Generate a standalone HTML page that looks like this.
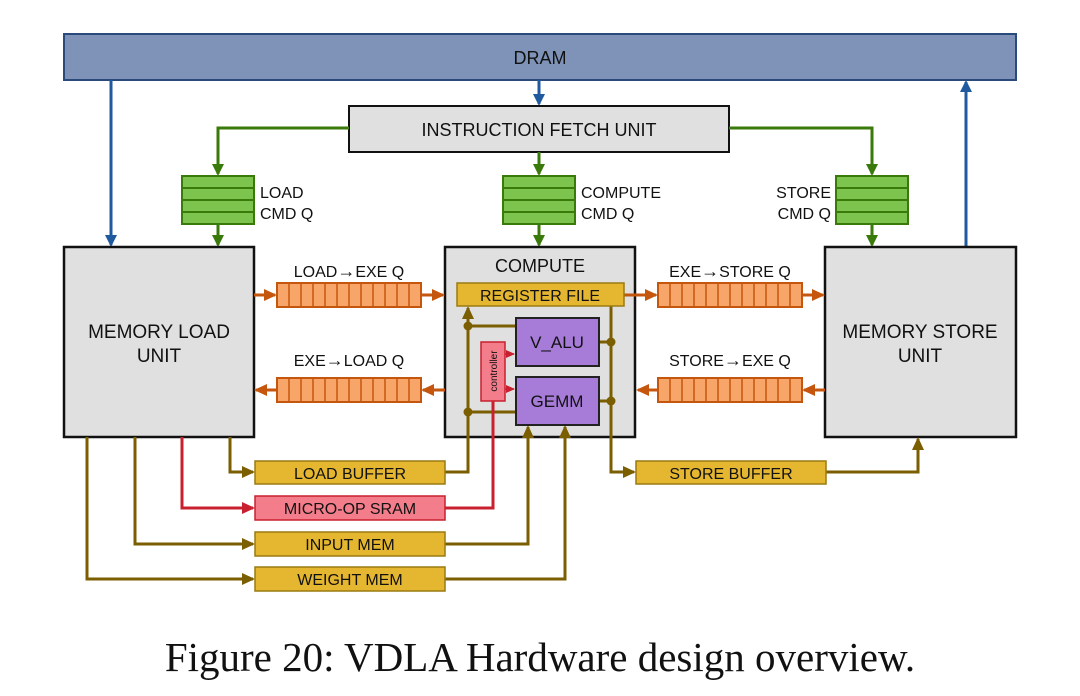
<!DOCTYPE html>
<html><head><meta charset="utf-8"><style>
html,body{margin:0;padding:0;background:#fff;width:1080px;height:696px;overflow:hidden}
text{font-family:"Liberation Sans",sans-serif;fill:#111}
</style></head><body>
<svg width="1080" height="696" viewBox="0 0 1080 696" xmlns="http://www.w3.org/2000/svg">
<defs>
<marker id="ab" markerWidth="12" markerHeight="12" refX="10" refY="6" orient="auto" markerUnits="userSpaceOnUse"><path d="M0,0 L12,6 L0,12 Z" fill="#1f5a9e"/></marker>
<marker id="ag" markerWidth="12" markerHeight="12" refX="10" refY="6" orient="auto" markerUnits="userSpaceOnUse"><path d="M0,0 L12,6 L0,12 Z" fill="#3a7a0a"/></marker>
<marker id="ao" markerWidth="13" markerHeight="12" refX="11" refY="6" orient="auto" markerUnits="userSpaceOnUse"><path d="M0,0 L13,6 L0,12 Z" fill="#c5560d"/></marker>
<marker id="ay" markerWidth="13" markerHeight="12" refX="11" refY="6" orient="auto" markerUnits="userSpaceOnUse"><path d="M0,0 L13,6 L0,12 Z" fill="#7a5e00"/></marker>
<marker id="ar" markerWidth="13" markerHeight="12" refX="11" refY="6" orient="auto" markerUnits="userSpaceOnUse"><path d="M0,0 L13,6 L0,12 Z" fill="#c8202e"/></marker>
<marker id="ar2" markerWidth="9" markerHeight="8" refX="8" refY="4" orient="auto" markerUnits="userSpaceOnUse"><path d="M0,0 L9,4 L0,8 Z" fill="#c8202e"/></marker>
</defs>

<rect x="64" y="34" width="952" height="46" fill="#7f93b9" stroke="#2a4a7c" stroke-width="2"/>
<text x="540" y="64" font-size="18" text-anchor="middle">DRAM</text>
<g stroke="#1f5a9e" stroke-width="3" fill="none">
<path d="M111 80 V245" marker-end="url(#ab)"/>
<path d="M539 80 V104" marker-end="url(#ab)"/>
<path d="M966 247 V82" marker-end="url(#ab)"/>
</g>

<rect x="349" y="106" width="380" height="46" fill="#e0e0e0" stroke="#111" stroke-width="2"/>
<text x="539" y="136" font-size="18" text-anchor="middle">INSTRUCTION FETCH UNIT</text>
<g stroke="#3a7a0a" stroke-width="3" fill="none">
<path d="M349 128 H218 V174" marker-end="url(#ag)"/>
<path d="M729 128 H872 V174" marker-end="url(#ag)"/>
<path d="M539 152 V174" marker-end="url(#ag)"/>
<path d="M218 224 V245" marker-end="url(#ag)"/>
<path d="M539 224 V245" marker-end="url(#ag)"/>
<path d="M872 224 V245" marker-end="url(#ag)"/>
</g>
<g fill="#7cc44e" stroke="#3a7a0a" stroke-width="2">
<rect x="182" y="176" width="72" height="48"/><rect x="503" y="176" width="72" height="48"/><rect x="836" y="176" width="72" height="48"/>
</g>
<g stroke="#3a7a0a" stroke-width="2">
<path d="M182 188H254M182 200H254M182 212H254M503 188H575M503 200H575M503 212H575M836 188H908M836 200H908M836 212H908"/>
</g>
<g font-size="16">
<text x="260" y="198">LOAD</text><text x="260" y="219">CMD Q</text>
<text x="581" y="198">COMPUTE</text><text x="581" y="219">CMD Q</text>
<text x="831" y="198" text-anchor="end">STORE</text><text x="831" y="219" text-anchor="end">CMD Q</text>
</g>

<rect x="64" y="247" width="190" height="190" fill="#e0e0e0" stroke="#111" stroke-width="2.5"/>
<text x="159" y="338" font-size="19" text-anchor="middle">MEMORY LOAD</text>
<text x="159" y="362" font-size="19" text-anchor="middle">UNIT</text>
<rect x="445" y="247" width="190" height="190" fill="#e0e0e0" stroke="#111" stroke-width="2.5"/>
<text x="540" y="272" font-size="18" text-anchor="middle">COMPUTE</text>
<rect x="825" y="247" width="191" height="190" fill="#e0e0e0" stroke="#111" stroke-width="2.5"/>
<text x="920" y="338" font-size="19" text-anchor="middle">MEMORY STORE</text>
<text x="920" y="362" font-size="19" text-anchor="middle">UNIT</text>

<g font-size="16" text-anchor="middle">
<text x="349" y="277">LOAD<tspan font-size="18">→</tspan>EXE Q</text>
<text x="349" y="366">EXE<tspan font-size="18">→</tspan>LOAD Q</text>
<text x="730" y="277">EXE<tspan font-size="18">→</tspan>STORE Q</text>
<text x="730" y="366">STORE<tspan font-size="18">→</tspan>EXE Q</text>
</g>
<g fill="#f8a56a" stroke="#c5560d" stroke-width="2">
<rect x="277" y="283" width="144" height="24"/><rect x="277" y="378" width="144" height="24"/>
<rect x="658" y="283" width="144" height="24"/><rect x="658" y="378" width="144" height="24"/>
</g>
<g stroke="#c5560d" stroke-width="1.5">
<path d="M289 283V307M301 283V307M313 283V307M325 283V307M337 283V307M349 283V307M361 283V307M373 283V307M385 283V307M397 283V307M409 283V307"/>
<path d="M289 378V402M301 378V402M313 378V402M325 378V402M337 378V402M349 378V402M361 378V402M373 378V402M385 378V402M397 378V402M409 378V402"/>
<path d="M670 283V307M682 283V307M694 283V307M706 283V307M718 283V307M730 283V307M742 283V307M754 283V307M766 283V307M778 283V307M790 283V307"/>
<path d="M670 378V402M682 378V402M694 378V402M706 378V402M718 378V402M730 378V402M742 378V402M754 378V402M766 378V402M778 378V402M790 378V402"/>
</g>
<g stroke="#c5560d" stroke-width="3" fill="none">
<path d="M254 295H275" marker-end="url(#ao)"/><path d="M421 295H443" marker-end="url(#ao)"/>
<path d="M445 390H423" marker-end="url(#ao)"/><path d="M277 390H256" marker-end="url(#ao)"/>
<path d="M624 295H656" marker-end="url(#ao)"/><path d="M802 295H823" marker-end="url(#ao)"/>
<path d="M825 390H804" marker-end="url(#ao)"/><path d="M658 390H638" marker-end="url(#ao)"/>
</g>

<g stroke="#7a5e00" stroke-width="3" fill="none">
<path d="M230 437V472H253" marker-end="url(#ay)"/>
<path d="M135 437V544H253" marker-end="url(#ay)"/>
<path d="M87 437V579H253" marker-end="url(#ay)"/>
<path d="M445 472H468V308" marker-end="url(#ay)"/>
<path d="M468 326H516M468 412H516"/>
<path d="M445 544H528V427" marker-end="url(#ay)"/>
<path d="M445 579H565V427" marker-end="url(#ay)"/>
<path d="M611 306V472H634" marker-end="url(#ay)"/>
<path d="M599 342H611M599 401H611"/>
<path d="M826 472H918V439" marker-end="url(#ay)"/>
</g>
<g fill="#7a5e00"><circle cx="468" cy="326" r="4.5"/><circle cx="468" cy="412" r="4.5"/><circle cx="611" cy="342" r="4.5"/><circle cx="611" cy="401" r="4.5"/></g>
<g stroke="#c8202e" stroke-width="3" fill="none">
<path d="M182 437V508H253" marker-end="url(#ar)"/>
<path d="M445 508H493V401"/>
</g>

<rect x="457" y="283" width="167" height="23" fill="#e5b731" stroke="#9a7a10" stroke-width="1.5"/>
<text x="540" y="301" font-size="16" text-anchor="middle">REGISTER FILE</text>
<rect x="516" y="318" width="83" height="48" fill="#a77bd8" stroke="#222" stroke-width="2"/>
<text x="557" y="348" font-size="17" text-anchor="middle">V_ALU</text>
<rect x="516" y="377" width="83" height="48" fill="#a77bd8" stroke="#222" stroke-width="2"/>
<text x="557" y="407" font-size="17" text-anchor="middle">GEMM</text>
<rect x="481" y="342" width="24" height="59" fill="#f47d8b" stroke="#c8202e" stroke-width="1.5"/>
<text transform="translate(497,371) rotate(-90)" font-size="10" text-anchor="middle">controller</text>
<g stroke="#c8202e" stroke-width="1.5" fill="none">
<path d="M505 354H514" marker-end="url(#ar2)"/><path d="M505 389H514" marker-end="url(#ar2)"/>
</g>

<g stroke="#9a7a10" stroke-width="1.5">
<rect x="255" y="461" width="190" height="23" fill="#e5b731"/>
<rect x="255" y="496" width="190" height="24" fill="#f47d8b" stroke="#c8202e"/>
<rect x="255" y="532" width="190" height="24" fill="#e5b731"/>
<rect x="255" y="567" width="190" height="24" fill="#e5b731"/>
<rect x="636" y="461" width="190" height="23" fill="#e5b731"/>
</g>
<g font-size="16" text-anchor="middle">
<text x="350" y="479">LOAD BUFFER</text>
<text x="350" y="514">MICRO-OP SRAM</text>
<text x="350" y="550">INPUT MEM</text>
<text x="350" y="585">WEIGHT MEM</text>
<text x="731" y="479">STORE BUFFER</text>
</g>

<text x="540" y="671" font-size="41" text-anchor="middle" style="font-family:'Liberation Serif',serif">Figure 20: VDLA Hardware design overview.</text>
</svg>
</body></html>
